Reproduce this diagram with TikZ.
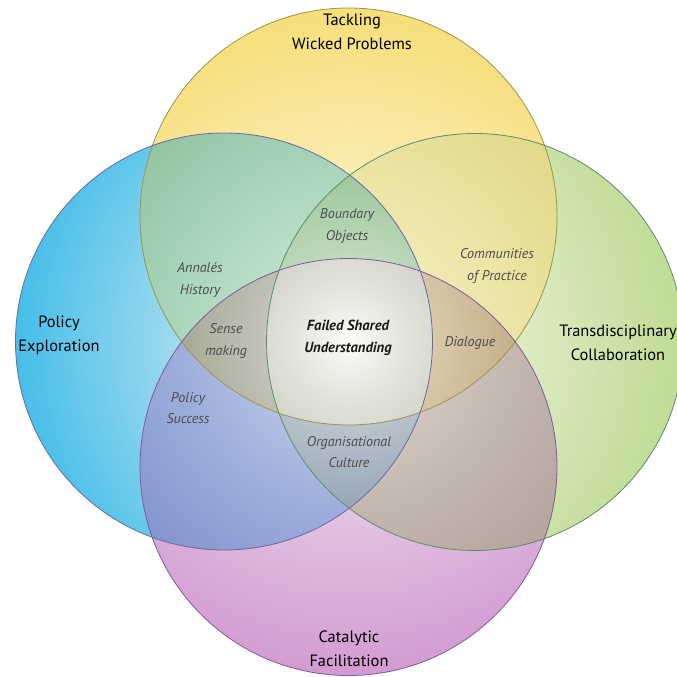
\documentclass[tikz,border=0pt]{standalone}
\usepackage{fontspec}
\setmainfont{PT Sans}

% outlines
\definecolor{lY}{HTML}{9A9650}
\definecolor{lB}{HTML}{6A6AA6}
\definecolor{lG}{HTML}{5E8E6C}
\definecolor{lP}{HTML}{7E5C9E}

% Each region gets a radial shading around the middle of the diagram.
% The shaded disc has radius 400 units, i.e. 25bp of the shading, so
% 1bp = 16 units: stops at distance 0, 64, 160 and 330 units from the middle.
\newcommand\regionshade[5]{%
  \definecolor{#1a}{HTML}{#2}\definecolor{#1b}{HTML}{#3}%
  \definecolor{#1c}{HTML}{#4}\definecolor{#1d}{HTML}{#5}%
  \pgfdeclareradialshading{#1}{\pgfpointorigin}{color(0bp)=(#1a); color(4bp)=(#1b); color(10bp)=(#1c); color(20.6bp)=(#1d); color(50bp)=(#1d)}}

% single sets
\regionshade{shY}{FAF6E2}{F9F0C8}{FAEDB4}{F6DE7A}
\regionshade{shB}{DCF0F6}{C6E8F3}{A6DCF0}{48BFE9}
\regionshade{shG}{F2F7E6}{E9F2D6}{DFECC6}{C0DC96}
\regionshade{shP}{F4E8F4}{EDDAED}{E3C6E3}{D39CD1}
% pairwise overlaps
\regionshade{shYB}{DAEDE0}{C8E3D0}{ADD8BD}{86BC98}
\regionshade{shYG}{F6F2D2}{F2ECBC}{ECE5A6}{DBD37C}
\regionshade{shBP}{D4DBEF}{BFC9E9}{A0B0DC}{7889C8}
\regionshade{shGP}{E6DFDA}{D9CFC9}{C5B8B0}{AC9D95}
% triple overlaps
\regionshade{shYBP}{DADBD2}{CACBBF}{AAAC9B}{9A9C8A}
\regionshade{shYGP}{EDE5D2}{DCD0B2}{C7B28C}{B8A07A}
\regionshade{shYBG}{DDEBDA}{C8DEC4}{A2C9A0}{8DB88C}
\regionshade{shBGP}{D8DEE2}{C2CBD2}{99A9B8}{8797A8}
% all four
\regionshade{shAll}{FBFBF8}{E0E1D8}{C2C3B4}{B0B1A0}

\tikzset{
  mainlbl/.style={font=\fontsize{14}{20.5}\selectfont, text=black, align=center, inner sep=0pt},
  sublbl/.style={font=\itshape\fontsize{12}{18.5}\selectfont, text=black!70, align=center, inner sep=0pt},
  corelbl/.style={font=\bfseries\itshape\fontsize{12.5}{19}\selectfont, text=black!90, align=center, inner sep=0pt},
  ring/.style={line width=0.7pt}
}

\begin{document}
\begin{tikzpicture}[x=0.03cm,y=-0.03cm]
\useasboundingbox (0,0) rectangle (677,677);
\clip (0,0) rectangle (677,677);
\fill[white] (0,0) rectangle (677,677);

\def\R{208.5}
\coordinate (Yc) at (348.5,216.5);
\coordinate (Bc) at (224,341.5);
\coordinate (Gc) at (475,342);
\coordinate (Pc) at (348.5,467);
\coordinate (mid) at (349,342);

\def\Ycirc{(Yc) circle[radius=\R]}
\def\Bcirc{(Bc) circle[radius=\R]}
\def\Gcirc{(Gc) circle[radius=\R]}
\def\Pcirc{(Pc) circle[radius=\R]}
\def\disc{(mid) circle[radius=400]}

% single sets
\begin{scope}\clip \Ycirc; \shade[shading=shY] \disc;\end{scope}
\begin{scope}\clip \Bcirc; \shade[shading=shB] \disc;\end{scope}
\begin{scope}\clip \Gcirc; \shade[shading=shG] \disc;\end{scope}
\begin{scope}\clip \Pcirc; \shade[shading=shP] \disc;\end{scope}

% pairwise overlaps
\begin{scope}\clip \Ycirc; \clip \Bcirc; \shade[shading=shYB] \disc;\end{scope}
\begin{scope}\clip \Ycirc; \clip \Gcirc; \shade[shading=shYG] \disc;\end{scope}
\begin{scope}\clip \Bcirc; \clip \Pcirc; \shade[shading=shBP] \disc;\end{scope}
\begin{scope}\clip \Gcirc; \clip \Pcirc; \shade[shading=shGP] \disc;\end{scope}

% triple overlaps
\begin{scope}\clip \Ycirc; \clip \Bcirc; \clip \Pcirc; \shade[shading=shYBP] \disc;\end{scope}
\begin{scope}\clip \Ycirc; \clip \Gcirc; \clip \Pcirc; \shade[shading=shYGP] \disc;\end{scope}
\begin{scope}\clip \Ycirc; \clip \Bcirc; \clip \Gcirc; \shade[shading=shYBG] \disc;\end{scope}
\begin{scope}\clip \Bcirc; \clip \Gcirc; \clip \Pcirc; \shade[shading=shBGP] \disc;\end{scope}

% all four
\begin{scope}\clip \Ycirc; \clip \Bcirc; \clip \Gcirc; \clip \Pcirc; \shade[shading=shAll] \disc;\end{scope}

% outlines
\draw[ring, lY] \Ycirc;
\draw[ring, lB] \Bcirc;
\draw[ring, lG] \Gcirc;
\draw[ring, lP] \Pcirc;

% set names
\node[mainlbl] (tackling) at (352,32) {Tackling\\Wicked Problems};
\node[mainlbl] (policy) at (59,335) {Policy\\Exploration};
\node[mainlbl] (trans) at (618,343) {Transdisciplinary\\Collaboration};
\node[mainlbl] (catalytic) at (349,648.5) {Catalytic\\Facilitation};

% overlap names
\node[sublbl] (boundary) at (347,226) {Boundary\\Objects};
\node[sublbl] (communities) at (497,266) {Communities\\of Practice};
\node[sublbl] (annales) at (200,280) {Annalés\\History};
\node[sublbl] (sense) at (226,341) {Sense\\making};
\node[corelbl] (core) at (348,338) {Failed Shared\\Understanding};
\node[sublbl] (dialogue) at (470,343) {Dialogue};
\node[sublbl] (success) at (188,408) {Policy\\Success};
\node[sublbl] (culture) at (349,452) {Organisational\\Culture};
\end{tikzpicture}
\end{document}
